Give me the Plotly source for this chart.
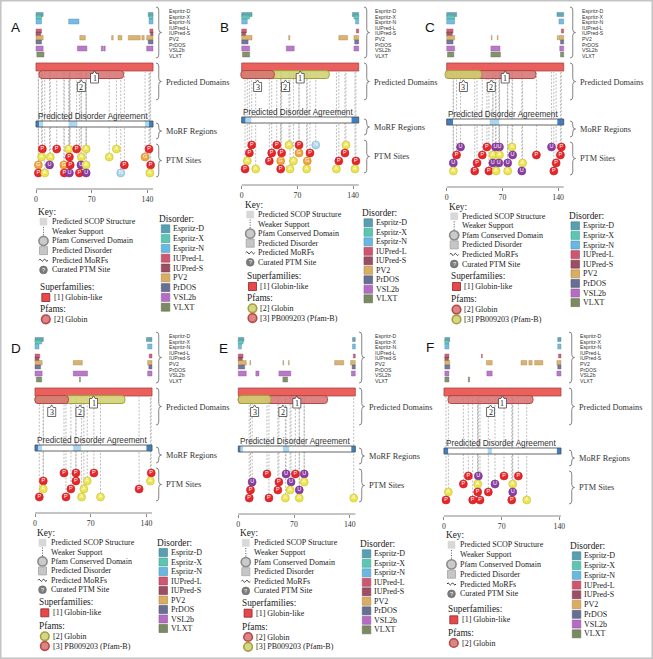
import plotly.graph_objects as go

W, H = 653, 659
SERIF = "Liberation Serif"
SANS = "Liberation Sans"

# ---------------- data ----------------
PANELS = ["A", "B", "C", "D", "E", "F"]
LENGTHS = [147, 147, 147, 147, 147, 142]
TICKS = [0, 70, 140]

TRACKS = ["Espritz-D", "Espritz-X", "Espritz-N", "IUPred-L", "IUPred-S",
          "PV2", "PrDOS", "VSL2b", "VLXT"]
TRACK_COLORS = ["#56a0b2", "#5cc6b4", "#68b8e2", "#cd5670", "#9c4e62",
                "#d9ad62", "#676f92", "#b56dc4", "#7a8a62"]

DIS_A = {"Espritz-D": [(0, 9), (141, 147)], "Espritz-X": [(0, 7), (142, 147)],
         "Espritz-N": [(0, 7), (41, 54), (142, 147)], "IUPred-L": [(0, 7), (143, 147)],
         "IUPred-S": [(0, 6), (144, 147)],
         "PV2": [(0, 9), (55, 62), (95, 97), (103, 108), (116, 131), (133, 136), (139, 147)],
         "PrDOS": [(0, 7), (141, 147)], "VSL2b": [(0, 9), (52, 64), (82, 84), (85, 87), (139, 147)],
         "VLXT": [(1, 10)]}
DIS_B = {"Espritz-D": [(0, 13), (139, 147)], "Espritz-X": [(0, 10), (141, 147)],
         "Espritz-N": [(0, 7), (143, 147)], "IUPred-L": [(0, 6), (144, 147)],
         "IUPred-S": [(0, 5)], "PV2": [(0, 13), (59, 60.5), (122, 133), (141, 147)],
         "PrDOS": [(0, 8), (142, 147)], "VSL2b": [(0, 10), (56, 66), (141, 147)],
         "VLXT": [(1, 10)]}
DIS_C = {"Espritz-D": [(0, 12.5), (138.5, 147)], "Espritz-X": [(0, 10)],
         "Espritz-N": [(0, 10), (141, 147)], "IUPred-L": [(0, 8), (144, 147)],
         "IUPred-S": [(0, 7)], "PV2": [(0, 10), (56, 57), (63.5, 64.5), (139, 140), (141, 147)],
         "PrDOS": [(0, 8), (143, 147)], "VSL2b": [(0, 10), (55.5, 67), (142, 147)],
         "VLXT": [(1, 9), (55.5, 67.5), (143, 147)]}
DIS_D = {"Espritz-D": [(0, 10.5), (140, 147)], "Espritz-X": [(0, 8.5)],
         "Espritz-N": [(0, 5), (141.5, 147)], "IUPred-L": [(0, 6), (143.5, 147)],
         "IUPred-S": [(0, 5)], "PV2": [(0, 9), (48, 59.5), (141.5, 147)],
         "PrDOS": [(0, 7), (143, 147)], "VSL2b": [(0, 9), (48, 66), (141.5, 147)],
         "VLXT": [(1.7, 8.4), (56, 57)]}
DIS_E = {"Espritz-D": [(0, 7), (143.5, 147)], "Espritz-X": [(0, 6)],
         "Espritz-N": [(0, 4), (143.5, 147)], "IUPred-L": [(0, 6), (144.5, 147)],
         "IUPred-S": [(0, 5)],
         "PV2": [(0, 10), (14.5, 15.5), (56, 57), (63, 64), (121, 126), (127, 132.5), (141, 147)],
         "PrDOS": [(0, 8), (143, 147)], "VSL2b": [(0, 10), (22, 26), (51, 66), (142, 147)],
         "VLXT": [(56, 62)]}
DIS_F = {"Espritz-D": [(1, 7), (138, 142)], "Espritz-X": [(1, 6)],
         "Espritz-N": [(1, 6), (138, 142)], "IUPred-L": [(1, 6), (45.5, 46.5), (139, 142)],
         "IUPred-S": [(1, 5.5)],
         "PV2": [(1, 7), (51.5, 58.5), (93.5, 100.5), (103, 107), (110, 120), (137, 142)],
         "PrDOS": [(1, 7), (138, 142)], "VSL2b": [(1, 6), (52, 58.5), (137, 142)],
         "VLXT": [(1, 6), (29.5, 31)]}
DISORDER = {"A": DIS_A, "B": DIS_B, "C": DIS_C, "D": DIS_D, "E": DIS_E, "F": DIS_F}

# PTM sites: four stacked rows of (residue, type)
PTM_A = [[(8, "P"), (26, "P"), (41, "A"), (51, "P"), (63, "A"), (101, "A"), (142, "P")],
         [(7, "A"), (18, "A"), (42, "P"), (57, "A"), (92, "A"), (137, "G")],
         [(3, "G"), (17, "U"), (35, "G"), (43, "P"), (56.5, "U"), (63, "A"), (111, "P"), (144, "P")],
         [(3, "P"), (11, "A"), (35.5, "P"), (42, "U"), (54.5, "P"), (63, "U"), (106.5, "N"), (143, "A")]]
PTM_B = [[(12.6, "P"), (44, "P"), (59.4, "A"), (72, "P"), (93, "N"), (131, "A")],
         [(9.6, "P"), (37.7, "P"), (50.2, "P"), (72, "G"), (85.8, "P"), (129.7, "P")],
         [(7, "A"), (34.7, "P"), (49, "G"), (65, "A"), (82.4, "G"), (122, "P"), (143.5, "P")],
         [(4.2, "P"), (17.6, "A"), (49, "P"), (60.7, "A"), (81.6, "A"), (119, "A"), (142.3, "A")]]
PTM_C = [[(17.4, "U"), (50.5, "P"), (61.3, "U"), (66.3, "U"), (82, "A"), (131.7, "U"), (144, "P")],
         [(12.4, "P"), (44.7, "P"), (58, "A"), (66.3, "A"), (82.8, "U"), (112.7, "P"), (142.9, "P")],
         [(8.3, "U"), (38.1, "P"), (58, "U"), (65.5, "U"), (76.6, "U"), (95.3, "A"), (137.5, "P")],
         [(8.3, "A"), (35.2, "P"), (53, "P"), (62.1, "A"), (76.6, "A"), (94.4, "U"), (134.6, "P")]]
PTM_D = [[(36.4, "P"), (51.4, "P"), (74, "P"), (146, "P")],
         [(10.4, "P"), (51.4, "P"), (65.6, "A"), (145, "A")],
         [(10.4, "A"), (45.1, "P"), (61.4, "A"), (130.8, "P")],
         [(5.4, "P"), (38.9, "P"), (58.5, "A"), (82.3, "A")]]
PTM_E = [[(36, "P"), (60, "U"), (71.7, "P"), (82.8, "U")],
         [(17.4, "U"), (51, "P"), (66.3, "U"), (82.8, "A")],
         [(15.3, "P"), (49.7, "P"), (65, "A"), (76.6, "U")],
         [(13.7, "P"), (38.5, "P"), (59.2, "A"), (76.6, "A"), (145, "A")]]
PTM_F = [[(29.5, "P"), (41.7, "U"), (72.8, "P"), (90.2, "P")],
         [(23.5, "P"), (40.9, "A"), (61.9, "U"), (83.4, "A")],
         [(5.3, "A"), (40.9, "P"), (53.8, "P"), (83.4, "U")],
         [(2.4, "P"), (34.8, "P"), (43.7, "P"), (82.2, "P"), (100.4, "A")]]
PTMS = {"A": PTM_A, "B": PTM_B, "C": PTM_C, "D": PTM_D, "E": PTM_E, "F": PTM_F}
PTM_COLORS = {"P": "#e8262a", "A": "#ece44c", "G": "#f2a33a", "U": "#8a3da3", "N": "#a9d5ee"}

# disorder agreement (start, end, level)
AGREE = {"A": [(0, 4, 2), (4, 9, 1), (41, 52, 1), (137, 142, 1), (142, 147, 2)],
         "B": [(0, 5, 2), (5, 12, 1), (138, 147, 2)],
         "C": [(0, 8, 2), (54, 66, 1), (139, 147, 2)],
         "D": [(0, 4, 2), (4, 9, 1), (48, 58, 1), (140, 147, 2)],
         "E": [(0, 3, 2), (3, 6, 1), (56, 64, 1), (142, 147, 2)],
         "F": [(0, 5, 2), (53, 58, 1), (137, 142, 2)]}

# Pfam domains (start, end, colour, number)
PFAM = {"A": [(4, 110, "red", 2)],
        "B": [(0, 110, "yellow", 2), (-1, 41, "red", 3)],
        "C": [(0, 112, "red", 2), (-2, 44, "yellow", 3)],
        "D": [(0, 113, "yellow", 2), (0, 42, "red", 3)],
        "E": [(0, 112, "red", 2), (0, 41, "yellow", 3)],
        "F": [(5, 108, "red", 2)]}
PFAM_NAMES = {2: "[2] Globin", 3: "[3] PB009203 (Pfam-B)"}
SUPERFAMILY = "[1] Globin-like"
KEY_ITEMS = ["Predicted SCOP Structure", "Weaker Support", "Pfam Conserved Domain",
             "Predicted Disorder", "Predicted MoRFs", "Curated PTM Site"]

# ---------------- layout constants ----------------
BAR_W = 117.0
X0 = dict(A=36, B=241.7, C=446.7, D=35, E=238.3, F=444)
OY = dict(A=0, B=0, C=0, D=325, E=325, F=325)
PTM_BASE = dict(A=149, B=145, C=147, D=148, E=149, F=151)
TRACK_LABEL_X = dict(A=167, B=373, C=580, D=167, E=372.7, F=578)
BRACE_X = dict(A=156, B=364, C=570, D=156, E=359, F=569)
LETTER_POS = dict(A=(15, 27), B=(224, 27), C=(430, 27), D=(16, 348), E=(223, 348), F=(430, 347))
LEGEND = dict(
    A=dict(kx=36, ky=212, kdy=9.65, sfy=287, pfy=309, dx=157.3, dy=219, ddy=9.8),
    B=dict(kx=242.7, ky=205, kdy=9.55, sfy=276, pfy=298, dx=360, dy=213, ddy=9.5),
    C=dict(kx=446.7, ky=206.7, kdy=9.55, sfy=276, pfy=299.3, dx=567, dy=216, ddy=9.6),
    D=dict(kx=35, ky=533.3, kdy=9.4, sfy=602.3, pfy=626, dx=155, dy=542.7, ddy=9.5),
    E=dict(kx=238.3, ky=533.3, kdy=9.6, sfy=602.7, pfy=626.7, dx=358.3, dy=544, ddy=9.5),
    F=dict(kx=444, ky=535, kdy=9.8, sfy=609.3, pfy=632.7, dx=568.3, dy=546, ddy=9.75),
)
TRACK_Y = [(12.5, 16.5), (15, 19), (19, 24), (29, 33), (32, 36), (35.5, 40), (40, 44), (46, 51), (52, 57)]
PFAM_STYLE = {"red": ("rgba(213,112,112,0.85)", "#b84848"),
              "yellow": ("rgba(207,207,112,0.85)", "#a2a23c")}


def darker(hx, f=0.72):
    hx = hx.lstrip("#")
    r, g, b = int(hx[0:2], 16), int(hx[2:4], 16), int(hx[4:6], 16)
    return "#%02x%02x%02x" % (int(r * f), int(g * f), int(b * f))


shapes, annotations, traces = [], [], []
PAGE = "x7"


def text(t, x, y, size=8, family=SERIF, color="#222", xref=PAGE, xanchor="left"):
    annotations.append(dict(text=t, x=x, y=y, xref=xref, yref="y", showarrow=False,
                            xanchor=xanchor, yanchor="middle",
                            font=dict(family=family, size=size, color=color)))


def brace(x, y0, y1, w=5.5):
    h = w / 2
    ym = (y0 + y1) / 2
    c = min(3, (y1 - y0) / 4)
    p = (f"M {x},{y0} Q {x+h},{y0} {x+h},{y0+c} L {x+h},{ym-c} Q {x+h},{ym} {x+w},{ym} "
         f"Q {x+h},{ym} {x+h},{ym+c} L {x+h},{y1-c} Q {x+h},{y1} {x},{y1}")
    shapes.append(dict(type="path", path=p, xref=PAGE, yref="y", line=dict(color="#666", width=0.8)))


def rounded(a, b, y0, y1, rpx, s):
    rx, ry = rpx / s, rpx
    return (f"M {a+rx},{y0} L {b-rx},{y0} Q {b},{y0} {b},{y0+ry} L {b},{y1-ry} Q {b},{y1} {b-rx},{y1} "
            f"L {a+rx},{y1} Q {a},{y1} {a},{y1-ry} L {a},{y0+ry} Q {a},{y0} {a+rx},{y0} Z")


layout = {}
for i, p in enumerate(PANELS):
    L = LENGTHS[i]
    s = BAR_W / L
    x0 = X0[p]
    oy = OY[p]
    base = oy + PTM_BASE[p]
    xa = "x" if i == 0 else f"x{i+1}"
    axname = "xaxis" if i == 0 else f"xaxis{i+1}"
    pad = 6
    layout[axname] = dict(domain=[(x0 - pad * s) / W, (x0 + (L + pad) * s) / W], range=[-pad, L + pad],
                          anchor="free", position=1 - (base + 40) / H, tickvals=TICKS,
                          ticks="outside", ticklen=3, tickwidth=0.8, tickcolor="#888",
                          showline=False, showgrid=False, zeroline=False, fixedrange=True,
                          tickfont=dict(family=SERIF, size=7.8, color="#333"))

    # residue axis line
    shapes.append(dict(type="line", xref=xa, yref="y", x0=0, x1=L, y0=base + 40, y1=base + 40,
                       line=dict(color="#8a8a8a", width=1.2)))

    # disorder tracks
    for k, tname in enumerate(TRACKS):
        for (a, b) in DISORDER[p].get(tname, []):
            shapes.append(dict(type="rect", xref=xa, yref="y", x0=a, x1=b,
                               y0=oy + TRACK_Y[k][0], y1=oy + TRACK_Y[k][1],
                               fillcolor=TRACK_COLORS[k], opacity=0.92,
                               line=dict(color=darker(TRACK_COLORS[k]), width=0.4)))
        text(tname, TRACK_LABEL_X[p], oy + 11 + 5.6 * k, size=5.2, family=SANS, color="#333")

    bx = BRACE_X[p]
    brace(bx, oy + 7, oy + 58)
    brace(bx, oy + 63, oy + 100)
    text("Predicted Domains", bx + 7.5, oy + 82, size=8.3, color="#333")
    brace(bx, base - 26, base - 10)
    text("MoRF Regions", bx + 7.5, base - 18, size=8.3, color="#333")
    brace(bx, base - 5, base + 28)
    text("PTM Sites", bx + 7.5, base + 11.5, size=8.3, color="#333")

    # PTM lines and markers
    lx, ly, mx, my, mc, ml, mt = [], [], [], [], [], [], []
    for r, row in enumerate(PTMS[p]):
        for (pos, typ) in row:
            y = base + 8 * r
            lx += [pos, pos, None]
            ly += [y, oy + 72, None]
            mx.append(pos)
            my.append(y)
            mc.append(PTM_COLORS[typ])
            ml.append(darker(PTM_COLORS[typ], 0.85))
            mt.append(typ)
    traces.append(go.Scatter(x=lx, y=ly, xaxis=xa, yaxis="y", mode="lines", hoverinfo="skip",
                             line=dict(color="#a2a2a2", width=0.7, dash="2px,1.5px"),
                             showlegend=False, cliponaxis=False))
    traces.append(go.Scatter(x=mx, y=my, xaxis=xa, yaxis="y", mode="markers+text", text=mt,
                             textposition="middle center", cliponaxis=False, showlegend=False,
                             textfont=dict(family=SANS, size=5.5, color="white"),
                             marker=dict(size=8, color=mc, line=dict(color=ml, width=0.6))))

    # domains
    shapes.append(dict(type="rect", xref=xa, yref="y", x0=0, x1=L, y0=oy + 63, y1=oy + 71,
                       fillcolor="#e9605c", line=dict(color="#a84444", width=0.8)))
    for (a, b, col, num) in sorted(PFAM[p], key=lambda d: -(d[1] - d[0])):
        fc, lc = PFAM_STYLE[col]
        shapes.append(dict(type="path", xref=xa, yref="y", path=rounded(a, b, oy + 70.5, oy + 78.5, 3, s),
                           fillcolor=fc, line=dict(color=lc, width=1)))

    def label_box(cx, yt, yb, t):
        hw, nw = 4 / s, 1.6 / s
        path = (f"M {cx-hw},{yb} L {cx-hw},{yt} L {cx-nw},{yt} L {cx},{yt-2.6} L {cx+nw},{yt} "
                f"L {cx+hw},{yt} L {cx+hw},{yb} Z")
        shapes.append(dict(type="path", xref=xa, yref="y", path=path, fillcolor="white",
                           line=dict(color="#444", width=0.8)))
        text(t, cx, (yt + yb) / 2 + 0.3, size=8, color="#222", xref=xa, xanchor="center")

    label_box(L / 2, oy + 73.5, oy + 83, "1")
    for (a, b, col, num) in PFAM[p]:
        label_box((a + b) / 2, oy + 82.5, oy + 91.5, str(num))

    # disorder agreement bar
    text("Predicted Disorder Agreement", x0 - 0.5, base - 32.5, size=8.2, family=SANS, color="#333")
    shapes.append(dict(type="rect", xref=xa, yref="y", x0=0, x1=L, y0=base - 28, y1=base - 22,
                       fillcolor="white", line=dict(width=0)))
    for (a, b, lev) in AGREE[p]:
        shapes.append(dict(type="rect", xref=xa, yref="y", x0=a, x1=b, y0=base - 28, y1=base - 22,
                           fillcolor="#3d7fc4" if lev == 2 else "#a9d6f2", line=dict(width=0)))
    shapes.append(dict(type="rect", xref=xa, yref="y", x0=0, x1=L, y0=base - 28, y1=base - 22,
                       line=dict(color="#555", width=0.9)))

    # panel letter
    lxp, lyp = LETTER_POS[p]
    text(p, lxp, lyp, size=13.5, family=SANS, color="#111", xanchor="center")

    # ---------- key / legend ----------
    g = LEGEND[p]
    kx, ky, kdy = g["kx"], g["ky"], g["kdy"]
    text("Key:", kx, ky, size=9.3)
    cx = kx + 7.5
    for j, item in enumerate(KEY_ITEMS):
        y = ky + kdy * (j + 1)
        text(item, kx + 13.5, y, size=8)
        if j == 0:
            shapes.append(dict(type="rect", xref=PAGE, yref="y", x0=cx - 3.5, x1=cx + 3.5, y0=y - 3.5,
                               y1=y + 3.5, fillcolor="#d8d8d8", line=dict(color="#d0d0d0", width=0.5)))
        elif j == 1:
            shapes.append(dict(type="line", xref=PAGE, yref="y", x0=cx, x1=cx, y0=y - 4.5, y1=y + 4.5,
                               line=dict(color="#555", width=1, dash="1px,1.5px")))
        elif j == 2:
            shapes.append(dict(type="circle", xref=PAGE, yref="y", x0=cx - 4.6, x1=cx + 4.6, y0=y - 4.6,
                               y1=y + 4.6, fillcolor="#cacaca", line=dict(color="#8a8a8a", width=1.6)))
        elif j == 3:
            shapes.append(dict(type="rect", xref=PAGE, yref="y", x0=cx - 4, x1=cx + 4, y0=y - 4,
                               y1=y + 4, fillcolor="#c6c6c6", line=dict(color="#a4a4a4", width=0.8)))
        elif j == 4:
            wp = (f"M {cx-4.5},{y} Q {cx-3.4},{y-2.2} {cx-2.25},{y} Q {cx-1.1},{y+2.2} {cx},{y} "
                  f"Q {cx+1.1},{y-2.2} {cx+2.25},{y} Q {cx+3.4},{y+2.2} {cx+4.5},{y}")
            shapes.append(dict(type="path", xref=PAGE, yref="y", path=wp, line=dict(color="#333", width=1)))
        else:
            shapes.append(dict(type="circle", xref=PAGE, yref="y", x0=cx - 3.9, x1=cx + 3.9, y0=y - 3.9,
                               y1=y + 3.9, fillcolor="#7c7c7c", line=dict(color="#666", width=0.6)))
            text("?", cx, y, size=5.5, family=SANS, color="white", xanchor="center")

    text("Superfamilies:", kx + 2, g["sfy"], size=9.3)
    sy = g["sfy"] + 10.5
    sc = kx + 9.8
    shapes.append(dict(type="rect", xref=PAGE, yref="y", x0=sc - 4, x1=sc + 4, y0=sy - 4, y1=sy + 4,
                       fillcolor="#e9474a", line=dict(color="#8a2a2a", width=0.8)))
    text(SUPERFAMILY, kx + 15.5, sy, size=8)

    text("Pfams:", kx + 2, g["pfy"], size=9.3)
    for j, (a, b, col, num) in enumerate(sorted(PFAM[p], key=lambda d: d[3])):
        fc, lc = PFAM_STYLE[col]
        py = g["pfy"] + 10.3 + 9.8 * j
        shapes.append(dict(type="circle", xref=PAGE, yref="y", x0=sc - 4.3, x1=sc + 4.3, y0=py - 4.3,
                           y1=py + 4.3, fillcolor=fc, line=dict(color=lc, width=1.6)))
        text(PFAM_NAMES[num], kx + 15.5, py, size=8)

    dx, dy, ddy = g["dx"], g["dy"], g["ddy"]
    text("Disorder:", dx, dy, size=9.3)
    for k, tname in enumerate(TRACKS):
        y = dy + 9.8 + ddy * k
        shapes.append(dict(type="rect", xref=PAGE, yref="y", x0=dx + 4, x1=dx + 12.5, y0=y - 4, y1=y + 4,
                           fillcolor=TRACK_COLORS[k], line=dict(color=darker(TRACK_COLORS[k], 0.8), width=0.6)))
        text(tname, dx + 14, y, size=8)

# page border
shapes.append(dict(type="rect", xref=PAGE, yref="y", x0=0.8, x1=652.2, y0=0.8, y1=658.2,
                   line=dict(color="#c4c4c4", width=1.5)))

traces.append(go.Scatter(x=[0], y=[0], xaxis=PAGE, yaxis="y", mode="markers",
                         marker=dict(opacity=0), hoverinfo="skip", showlegend=False))

fig = go.Figure(data=traces)
fig.update_layout(**layout)
fig.update_layout(
    width=W, height=H, margin=dict(l=0, r=0, t=0, b=0),
    paper_bgcolor="white", plot_bgcolor="rgba(0,0,0,0)", showlegend=False,
    xaxis7=dict(domain=[0, 1], range=[0, W], visible=False, anchor="y", fixedrange=True),
    yaxis=dict(domain=[0, 1], range=[H, 0], visible=False, anchor="x7", fixedrange=True),
    shapes=shapes, annotations=annotations,
)
fig.write_html("out.html", config={"displayModeBar": False},
               post_script="document.body.style.margin='0';document.body.style.overflow='hidden';")
